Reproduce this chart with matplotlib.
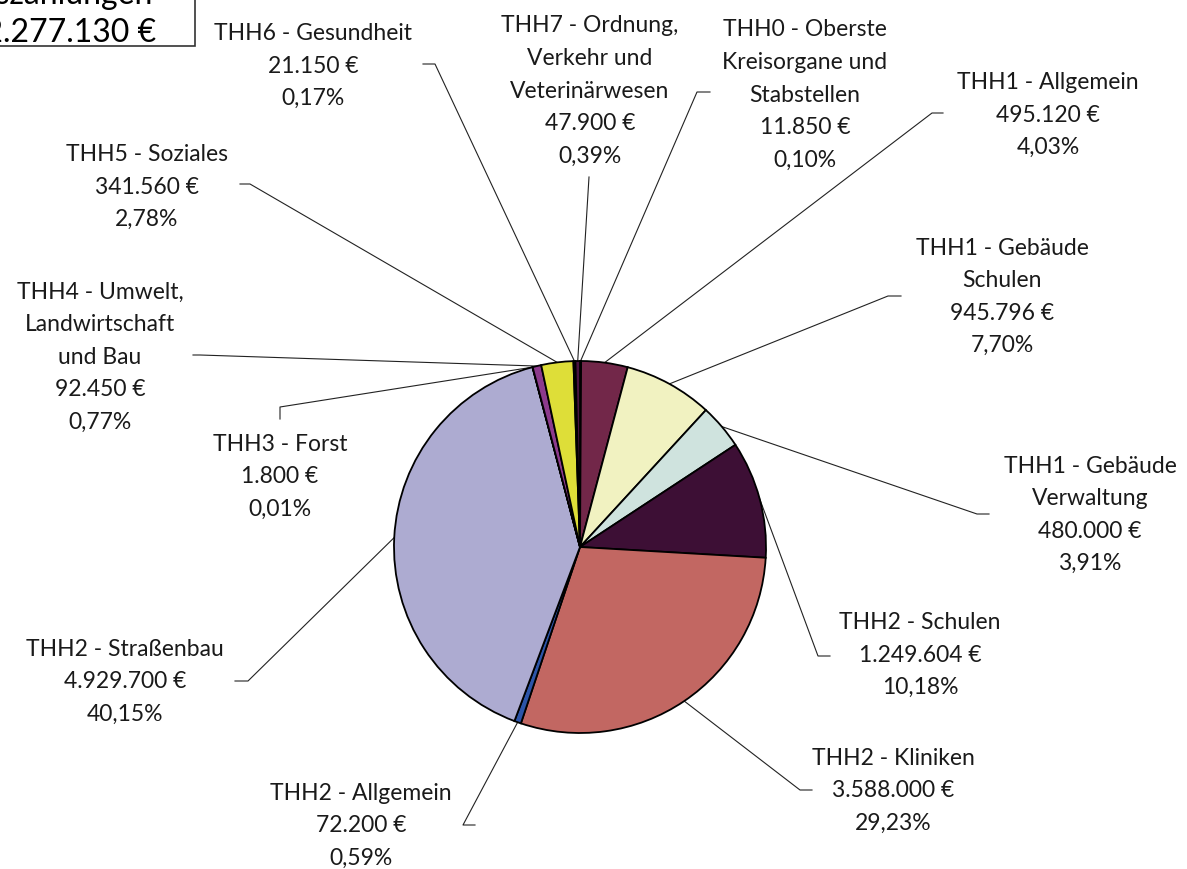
import matplotlib
matplotlib.use("Agg")
import matplotlib.pyplot as plt
from matplotlib.patches import Rectangle
import numpy as np

# data
names = [
    "THH0 - Oberste\nKreisorgane und\nStabstellen",
    "THH1 - Allgemein",
    "THH1 - Gebäude\nSchulen",
    "THH1 - Gebäude\nVerwaltung",
    "THH2 - Schulen",
    "THH2 - Kliniken",
    "THH2 - Allgemein",
    "THH2 - Straßenbau",
    "THH3 - Forst",
    "THH4 - Umwelt,\nLandwirtschaft\nund Bau",
    "THH5 - Soziales",
    "THH6 - Gesundheit",
    "THH7 - Ordnung,\nVerkehr und\nVeterinärwesen",
]
values = [11850, 495120, 945796, 480000, 1249604, 3588000, 72200,
          4929700, 1800, 92450, 341560, 21150, 47900]
percents = ["0,10%", "4,03%", "7,70%", "3,91%", "10,18%", "29,23%", "0,59%",
            "40,15%", "0,01%", "0,77%", "2,78%", "0,17%", "0,39%"]
colors = ["#2B0A26", "#722749", "#F1F2C1", "#CFE3DE", "#3D0F35", "#C26762",
          "#2D55A8", "#ADABD1", "#9FC4E0", "#8C3A8C", "#DEDE38", "#3A0A30",
          "#4A1240"]
total_label = "Gesamtauszahlungen"

# layout (pixels of the 1187x870 picture)
W, H = 1187, 870
CX, CY, R = 580, 548, 186
label_pos = [(805, 95), (1048, 115), (1002, 297), (1090, 515), (920, 655),
             (893, 791), (361, 826), (125, 682), (280, 477), (100, 357),
             (147, 187), (313, 66), (590, 91)]
elbow_pos = [(697, 93), (932, 114), (888, 297), (977, 515), (818, 657),
             (800, 791), (463, 826), (248, 682), (280, 408), (200, 356),
             (250, 185), (435, 65), (589, 178)]
end_pos = [(710, 93), (943, 114), (901, 297), (989, 515), (830, 657),
           (812, 791), (475, 826), (235, 682), (280, 420), (193, 356),
           (240, 185), (423, 65), (589, 178)]


def px(p):
    return ((p[0] - CX) / R, (CY - p[1]) / R)


def euro(v):
    return f"{v:,}".replace(",", ".") + " €"


FONT = "Lato"
FS = 16.5

fig = plt.figure(figsize=(W / 100, H / 100), dpi=100)
ax = fig.add_axes([0, 0, 1, 1])
wedges, _ = ax.pie(values, startangle=90, counterclock=False, colors=colors,
                   radius=1, center=(0, 0),
                   wedgeprops=dict(edgecolor="black", linewidth=1.3))
ax.set_xlim(-CX / R, (W - CX) / R)
ax.set_ylim((CY - H) / R, CY / R)
ax.axis("off")

for w, name, v, pct, lp, ep, en in zip(wedges, names, values, percents,
                                       label_pos, elbow_pos, end_pos):
    ang = np.deg2rad((w.theta1 + w.theta2) / 2)
    start = (np.cos(ang), np.sin(ang))
    e = px(ep)
    n = px(en)
    ax.plot([start[0], e[0], n[0]], [start[1], e[1], n[1]],
            color="#222222", lw=0.8, zorder=0)
    x, y = px(lp)
    ax.text(x, y, f"{name}\n{euro(v)}\n{pct}", ha="center", va="center",
            fontsize=FS, family=FONT, color="#1a1a1a", linespacing=1.68)

# total box in the top-left corner, cut by the picture edge as in the original
fig.patches.append(Rectangle((-20 / W, 1 - 47 / H), 215 / W, 70 / H,
                             transform=fig.transFigure, facecolor="white",
                             edgecolor="#333333", lw=1.2))
fig.text(153 / W, 1 - 4 / H, total_label, ha="right", va="baseline",
         fontsize=23, family=FONT, color="black")
fig.text(156 / W, 1 - 42 / H, euro(sum(values)), ha="right", va="baseline",
         fontsize=23, family=FONT, color="black")

fig.savefig("out.png", dpi=100)
